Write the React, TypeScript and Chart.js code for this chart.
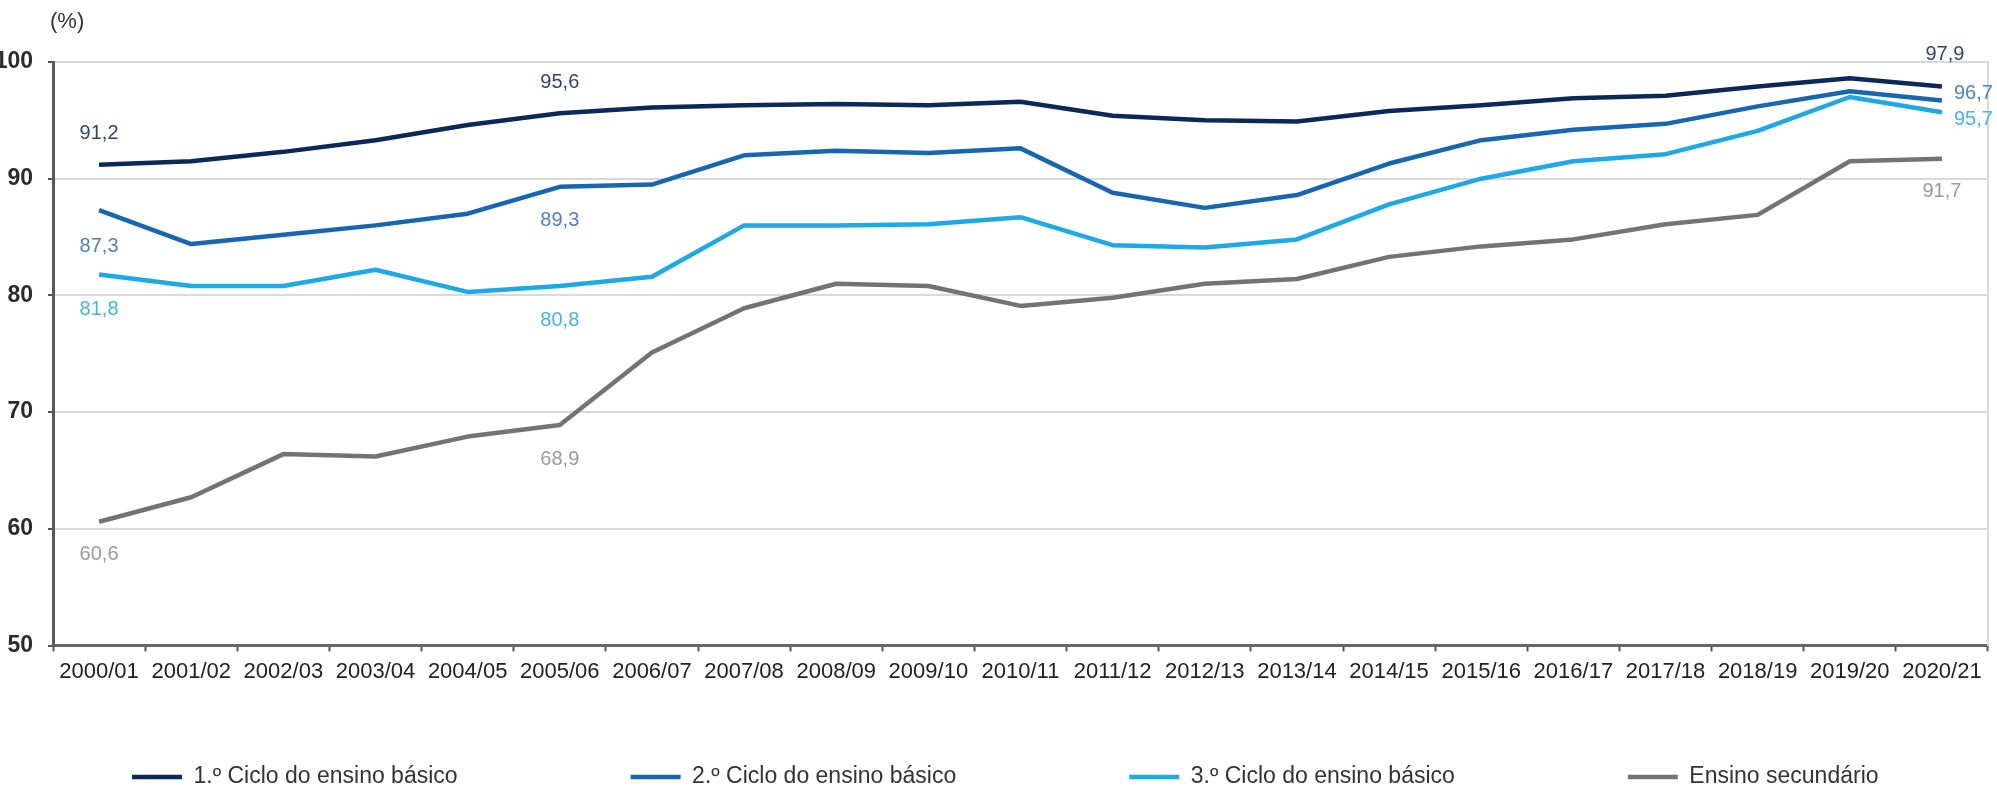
import React, { useEffect, useRef } from 'react';
import { Chart, registerables } from 'chart.js';

Chart.register(...registerables);

// ---------- data ----------
const categories = [
  '2000/01', '2001/02', '2002/03', '2003/04', '2004/05', '2005/06', '2006/07',
  '2007/08', '2008/09', '2009/10', '2010/11', '2011/12', '2012/13', '2013/14',
  '2014/15', '2015/16', '2016/17', '2017/18', '2018/19', '2019/20', '2020/21',
];
const ciclo1 = [91.2, 91.5, 92.3, 93.3, 94.6, 95.6, 96.1, 96.3, 96.4, 96.3, 96.6, 95.4, 95.0, 94.9, 95.8, 96.3, 96.9, 97.1, 97.9, 98.6, 97.9];
const ciclo2 = [87.3, 84.4, 85.2, 86.0, 87.0, 89.3, 89.5, 92.0, 92.4, 92.2, 92.6, 88.8, 87.5, 88.6, 91.3, 93.3, 94.2, 94.7, 96.2, 97.5, 96.7];
const ciclo3 = [81.8, 80.8, 80.8, 82.2, 80.3, 80.8, 81.6, 86.0, 86.0, 86.1, 86.7, 84.3, 84.1, 84.8, 87.8, 90.0, 91.5, 92.1, 94.1, 97.0, 95.7];
const secundario = [60.6, 62.7, 66.4, 66.2, 67.9, 68.9, 75.1, 78.9, 81.0, 80.8, 79.1, 79.8, 81.0, 81.4, 83.3, 84.2, 84.8, 86.1, 86.9, 91.5, 91.7];
const seriesNames = [
  '1.º Ciclo do ensino básico',
  '2.º Ciclo do ensino básico',
  '3.º Ciclo do ensino básico',
  'Ensino secundário',
];
const yMin = 50;
const yMax = 100;
const yStep = 10;
const unitLabel = '(%)';
const labelledIndexes = [0, 5, 20];

// ---------- styles ----------
const FONT = "'Liberation Sans', Arial, Helvetica, sans-serif";
const lineColors = ['#0b2858', '#1766b1', '#1ca9e5', '#737373'];
const labelColors = ['#33456d', '#4f80bf', '#45b3e8', '#9a9a9a'];
const LEGEND_PAD = 173;
const LEGEND_FIRST_X = 132;
const LEGEND_ITEM_TOP = 765.5;

type Place = { dx: number; dy: number; align: CanvasTextAlign };
const placements: Place[][] = [
  [{ dx: 0, dy: -31, align: 'center' }, { dx: 0, dy: -31, align: 'center' }, { dx: 3, dy: -32, align: 'center' }],
  [{ dx: 0, dy: 36, align: 'center' }, { dx: 0, dy: 34, align: 'center' }, { dx: 12, dy: -7, align: 'left' }],
  [{ dx: 0, dy: 35, align: 'center' }, { dx: 0, dy: 34, align: 'center' }, { dx: 12, dy: 7, align: 'left' }],
  [{ dx: 0, dy: 33, align: 'center' }, { dx: 0, dy: 35, align: 'center' }, { dx: 0, dy: 33, align: 'center' }],
];

const fmt = (v: number) => v.toFixed(1).replace('.', ',');

const valueLabels = {
  id: 'valueLabels',
  afterDatasetsDraw(chart: any) {
    const ctx = chart.ctx as CanvasRenderingContext2D;
    ctx.save();
    ctx.font = `20px ${FONT}`;
    ctx.textBaseline = 'middle';
    chart.data.datasets.forEach((ds: any, di: number) => {
      const meta = chart.getDatasetMeta(di);
      labelledIndexes.forEach((idx, k) => {
        const pt = meta.data[idx];
        if (!pt) return;
        const p = placements[di][k];
        ctx.fillStyle = labelColors[di];
        ctx.textAlign = p.align;
        ctx.fillText(fmt(ds.data[idx]), pt.x + p.dx, pt.y + p.dy);
      });
    });
    ctx.restore();
  },
};

const unitText = {
  id: 'unitText',
  afterDraw(chart: any) {
    const ctx = chart.ctx as CanvasRenderingContext2D;
    ctx.save();
    ctx.font = `22px ${FONT}`;
    ctx.fillStyle = '#333333';
    ctx.textAlign = 'left';
    ctx.textBaseline = 'middle';
    ctx.fillText(unitLabel, 50, 22);
    ctx.restore();
  },
};

// place the single legend row where the reference has it
const legendPlace = {
  id: 'legendPlace',
  afterLayout(chart: any) {
    const l = chart.legend;
    if (!l) return;
    const pad = l.options.labels.padding;
    l.top = LEGEND_ITEM_TOP - pad;
    l.bottom = chart.height;
    l.height = l.bottom - l.top;
    l.left = LEGEND_FIRST_X - pad;
    l.right = chart.width + 2000;
    l.width = l.right - l.left;
  },
};

export default function App() {
  const ref = useRef<HTMLCanvasElement>(null);

  useEffect(() => {
    if (!ref.current) return;
    const seriesData = [ciclo1, ciclo2, ciclo3, secundario];
    const chart = new Chart(ref.current, {
      type: 'line',
      data: {
        labels: categories,
        datasets: seriesData.map((d, i) => ({
          label: seriesNames[i],
          data: d,
          borderColor: lineColors[i],
          backgroundColor: lineColors[i],
          borderWidth: 4.5,
          pointRadius: 0,
          pointHoverRadius: 0,
          tension: 0,
          fill: false,
          borderJoinStyle: 'round' as CanvasLineJoin,
          yAxisID: 'y',
        })),
      },
      options: {
        responsive: false,
        animation: false,
        layout: { padding: { top: 62, left: 0, right: 0, bottom: 0 } },
        font: { family: FONT },
        plugins: {
          tooltip: { enabled: false },
          title: { display: false },
          legend: {
            display: true,
            position: 'bottom',
            align: 'start',
            maxHeight: 111.5,
            labels: {
              usePointStyle: true,
              pointStyle: 'line',
              pointStyleWidth: 50,
              padding: LEGEND_PAD,
              color: '#333333',
              font: { family: FONT, size: 23 },
            },
          },
        },
        scales: {
          x: {
            type: 'category',
            offset: true,
            grid: {
              display: true,
              drawOnChartArea: false,
              drawTicks: true,
              tickLength: 6,
              tickWidth: 2,
              tickColor: '#555555',
              offset: true,
            },
            border: { display: true, color: '#666666', width: 3 },
            ticks: {
              color: '#222222',
              font: { family: FONT, size: 22 },
              padding: 7,
              maxRotation: 0,
              minRotation: 0,
              autoSkip: false,
            },
            afterFit: (s: any) => {
              s.height = 42;
            },
          },
          y: {
            type: 'linear',
            position: 'left',
            min: yMin,
            max: yMax,
            ticks: {
              stepSize: yStep,
              color: '#2b2b2b',
              padding: 15,
              font: { family: FONT, size: 23, weight: 'bold' },
            },
            grid: {
              color: (c: any) => (c.tick && c.tick.value === yMin ? 'rgba(0,0,0,0)' : '#d9d9d9'),
              lineWidth: 2,
              drawTicks: true,
              tickLength: 5,
              tickWidth: 2,
              tickColor: '#555555',
            },
            border: { display: true, color: '#595959', width: 3 },
            afterFit: (s: any) => {
              s.width = 53;
            },
          },
          yR: {
            type: 'linear',
            position: 'right',
            min: yMin,
            max: yMax,
            ticks: { display: false },
            grid: { display: false, drawTicks: false },
            border: { display: true, color: '#d9d9d9', width: 2 },
            afterFit: (s: any) => {
              s.width = 9;
            },
          },
        },
      },
      plugins: [valueLabels, unitText, legendPlace],
    });
    return () => chart.destroy();
  }, []);

  return (
    <div style={{ position: 'fixed', left: 0, top: 0, width: 1997, height: 799, background: '#ffffff' }}>
      <canvas ref={ref} width={1997} height={799} style={{ display: 'block', width: 1997, height: 799 }} />
    </div>
  );
}
